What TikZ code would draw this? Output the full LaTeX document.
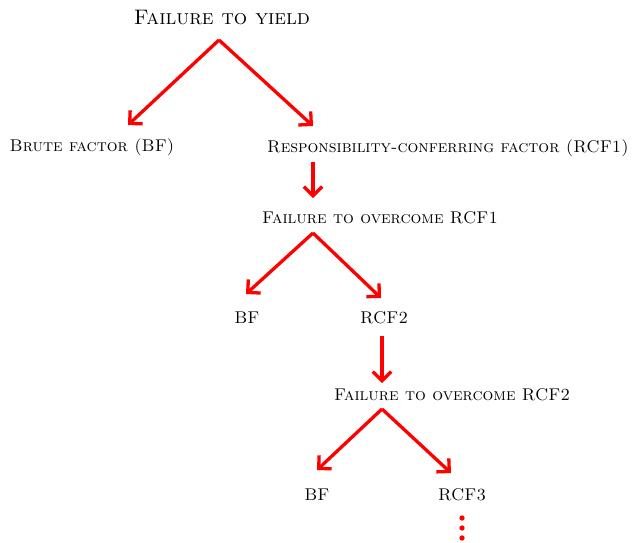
\documentclass[tikz,border=0pt]{standalone}
\usetikzlibrary{arrows.meta}
\tikzset{
  lbl/.style={inner sep=0pt, font=\fontsize{17}{20}\selectfont\scshape, text=black},
  title/.style={inner sep=0pt, font=\fontsize{21}{24}\selectfont\scshape, text=black},
  arr/.style={draw=red, line width=3.3pt, -{Straight Barb[angle=90:13pt]}},
  dot/.style={fill=red}
}
\begin{document}
\begin{tikzpicture}[x=1pt,y=-1pt]
\useasboundingbox (0,0) rectangle (633,542);
% texts
\node[title] (t0) at (222,18) {Failure to yield};
\node[lbl] (bf1) at (92,147) {Brute factor (BF)};
\node[lbl] (rcf1) at (448,148) {Responsibility-conferring factor (RCF1)};
\node[lbl] (f1) at (380,218) {Failure to overcome RCF1};
\node[lbl] (bf2) at (247,318) {BF};
\node[lbl] (rcf2) at (384,318) {RCF2};
\node[lbl] (f2) at (452,395) {Failure to overcome RCF2};
\node[lbl] (bf3) at (317,495) {BF};
\node[lbl] (rcf3) at (462,495) {RCF3};
% connector ends
\coordinate (a0) at (219,40);
\coordinate (l0) at (128,125);
\coordinate (r0) at (313,126);
\coordinate (d1s) at (313,162);
\coordinate (d1e) at (313,198);
\coordinate (a1) at (313,233);
\coordinate (l1) at (246,294);
\coordinate (r1) at (381,298);
\coordinate (d2s) at (382,336);
\coordinate (d2e) at (382,383);
\coordinate (a2) at (382,409);
\coordinate (l2) at (317,470);
\coordinate (r2) at (451,473);
% arrows
\draw[arr] (a0) -- (l0);
\draw[arr] (a0) -- (r0);
\draw[arr] (d1s) -- (d1e);
\draw[arr] (a1) -- (l1);
\draw[arr] (a1) -- (r1);
\draw[arr] (d2s) -- (d2e);
\draw[arr] (a2) -- (l2);
\draw[arr] (a2) -- (r2);
% dots
\coordinate (v1) at (462,518);
\coordinate (v2) at (462,528);
\coordinate (v3) at (462,538);
\fill[dot] (v1) circle (2.7);
\fill[dot] (v2) circle (2.7);
\fill[dot] (v3) circle (2.7);
\end{tikzpicture}
\end{document}
